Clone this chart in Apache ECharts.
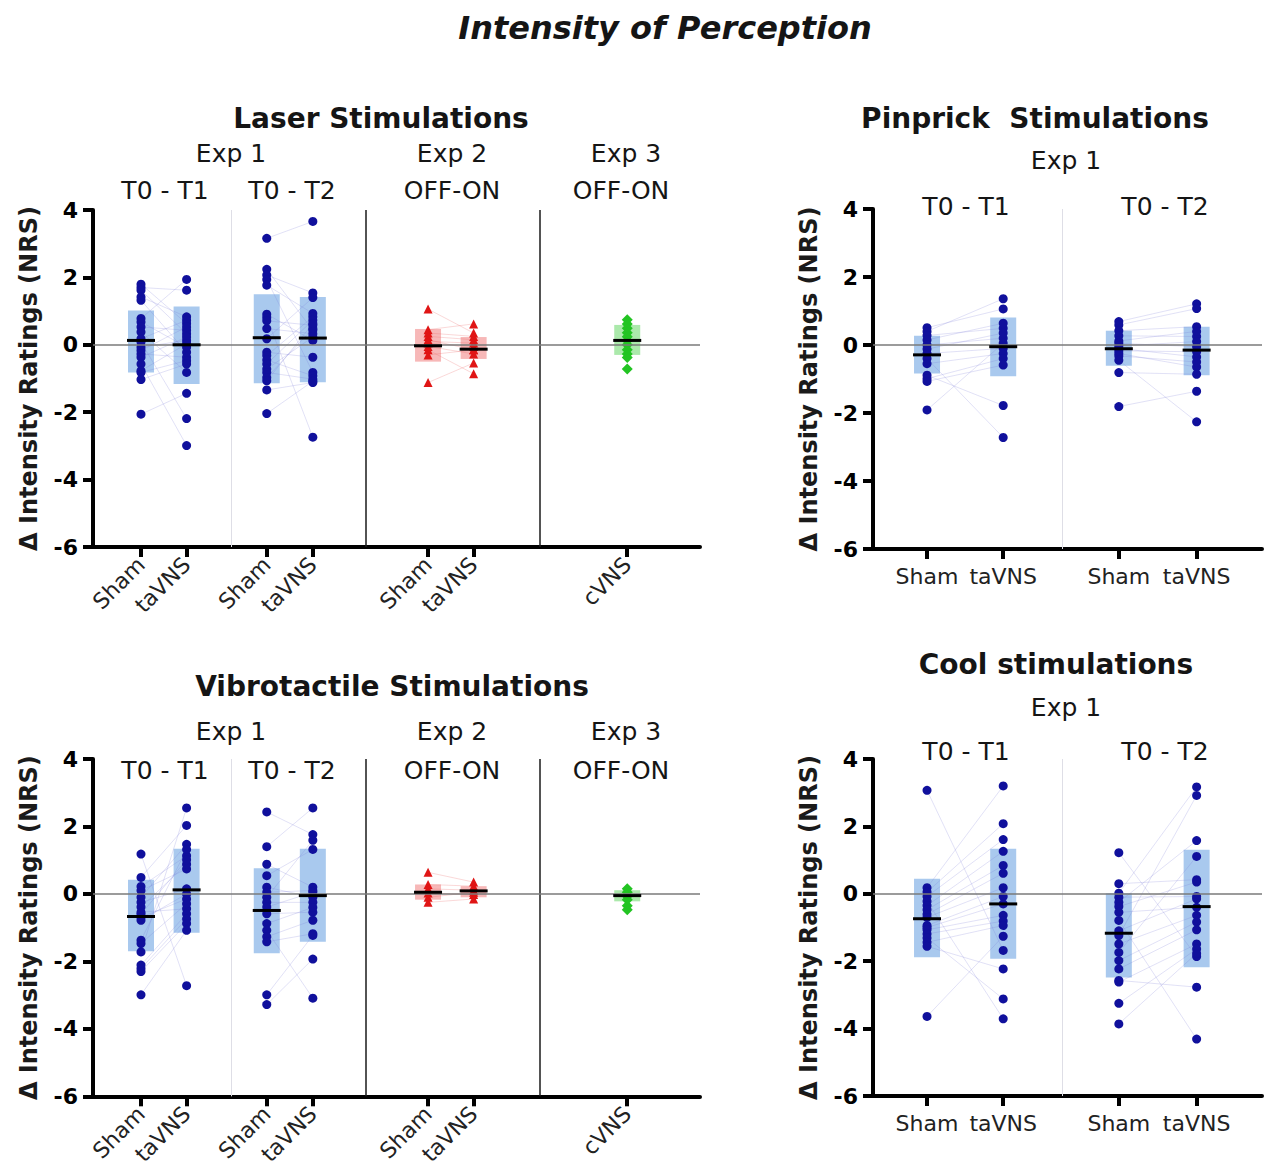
<!DOCTYPE html>
<html><head><meta charset="utf-8">
<script src="https://cdn.jsdelivr.net/npm/echarts@6/dist/echarts.min.js"></script>
<style>html,body{margin:0;padding:0;background:#fff}#c{width:1268px;height:1168px}</style>
</head><body><div id="c"></div><script>
// ===== DATA =====
const laserNames = ['Sham','taVNS','Sham','taVNS','Sham','taVNS','cVNS'];
const pinNames = ['Sham','taVNS','Sham','taVNS'];
const yAxisName = 'Δ Intensity Ratings (NRS)';

// Laser stimulations
const laserT1Sham  = [1.80, 1.70, 1.62, 1.42, 1.32, 0.78, 0.68, 0.53, 0.38, 0.18, 0.08, -0.07, -0.17, -0.27, -0.37, -0.57, -0.77, -0.82, -1.03, -2.06];
const laserT1Tavns = [0.63, 1.62, 0.33, 0.83, -0.22, 1.94, -0.07, 0.43, -0.82, 0.73, -2.19, 0.13, 0.53, -0.37, 0.23, -2.99, 0.03, -0.47, -0.57, -1.44];
const laserT2Sham  = [3.16, 2.24, 2.07, 1.94, 1.77, 0.91, 0.81, 0.71, 0.48, 0.18, -0.22, -0.32, -0.45, -0.57, -0.72, -0.82, -0.97, -1.07, -1.34, -2.04];
const laserT2Tavns = [3.66, 0.43, 1.54, -0.82, 0.93, 0.13, -2.74, 0.58, 0.33, 1.40, -0.37, 0.83, -0.92, 0.73, 0.23, -1.02, 0.48, 0.63, -1.12, -1.08];
const laserE2Sham  = [1.06, 0.45, 0.35, 0.25, 0.15, 0.10, 0.05, -0.05, -0.15, -0.30, -1.12];
const laserE2Tavns = [0.35, 0.62, 0.25, 0.15, -0.15, 0.05, -0.05, -0.27, -0.86, -0.15, -0.54];
const laserE3Cvns  = [0.74, 0.62, 0.49, 0.36, 0.24, 0.12, 0.00, -0.15, -0.27, -0.38, -0.72];
const laserBoxLow  = [-0.82, -1.16, -1.14, -1.11, -0.50, -0.42, -0.30];
const laserBoxHigh = [1.02, 1.14, 1.50, 1.42, 0.47, 0.23, 0.59];
const laserMean    = [0.13, 0.00, 0.21, 0.20, -0.03, -0.13, 0.13];

// Pinprick stimulations
const pinT1Sham  = [0.51, 0.40, 0.28, 0.15, 0.00, -0.12, -0.25, -0.40, -0.55, -0.89, -0.99, -1.07, -1.91];
const pinT1Tavns = [1.06, 1.36, 0.49, 0.64, 0.20, 0.35, -0.10, -2.72, -0.25, -1.78, -0.40, -0.59, 0.05];
const pinT2Sham  = [0.69, 0.59, 0.42, 0.27, 0.12, 0.05, -0.03, -0.10, -0.17, -0.25, -0.32, -0.45, -0.81, -1.81];
const pinT2Tavns = [1.21, 1.07, 0.54, 0.25, 0.40, -0.05, 0.10, -0.35, -0.20, -0.65, -0.50, -2.26, -0.86, -1.36];
const pinBoxLow  = [-0.84, -0.92, -0.61, -0.89];
const pinBoxHigh = [0.27, 0.81, 0.42, 0.54];
const pinMean    = [-0.29, -0.05, -0.11, -0.15];

// Vibrotactile stimulations
const vibT1Sham  = [1.18, 0.49, 0.22, 0.10, -0.10, -0.25, -0.39, -0.54, -0.60, -0.69, -0.78, -1.37, -1.47, -1.72, -2.11, -2.21, -2.30, -2.99];
const vibT1Tavns = [-2.72, 2.03, 1.13, 0.74, 1.47, 0.15, 0.88, -0.44, 1.01, -0.15, 0.00, 1.32, -0.29, 2.55, -0.59, -0.74, -0.88, -1.08];
const vibT2Sham  = [2.43, 1.40, 0.88, 0.54, 0.20, 0.05, -0.10, -0.25, -0.39, -0.59, -0.88, -1.08, -1.27, -1.42, -2.99, -3.28];
const vibT2Tavns = [1.76, 2.55, 0.20, 1.32, -0.10, 0.10, 1.59, -0.25, 0.05, -0.54, -0.40, -3.09, -0.78, -1.18, -1.23, -1.93];
const vibE2Sham  = [0.64, 0.28, 0.15, 0.03, -0.10, -0.25];
const vibE2Tavns = [0.35, 0.23, 0.11, -0.02, 0.05, -0.15];
const vibE3Cvns  = [0.15, 0.05, -0.07, -0.17, -0.35, -0.47];
const vibBoxLow  = [-1.70, -1.15, -1.76, -1.42, -0.17, -0.10, -0.22];
const vibBoxHigh = [0.42, 1.34, 0.76, 1.34, 0.28, 0.23, 0.11];
const vibMean    = [-0.67, 0.12, -0.49, -0.05, 0.05, 0.09, -0.05];

// Cool stimulations
const coolT1Sham  = [3.07, 0.18, 0.05, -0.08, -0.22, -0.35, -0.47, -0.61, -0.70, -0.94, -1.00, -1.07, -1.19, -1.31, -1.44, -1.56, -3.64];
const coolT1Tavns = [-1.68, 3.20, 2.08, 1.61, -3.71, 1.26, 0.84, 0.61, 0.18, -0.08, -0.30, -0.64, -0.81, -3.12, -0.94, -2.23, -1.26];
const coolT2Sham  = [1.22, 0.30, 0.02, -0.10, -0.25, -0.38, -0.55, -0.79, -1.10, -1.24, -1.49, -1.74, -1.98, -2.23, -2.57, -2.62, -3.25, -3.86];
const coolT2Tavns = [-1.86, 0.42, 3.17, -0.08, 1.58, 0.35, -0.40, -4.31, -0.15, 2.92, -0.64, 1.11, -0.84, -1.07, -2.77, -1.49, -1.64, -1.77];
const coolBoxLow  = [-1.88, -1.93, -2.48, -2.18];
const coolBoxHigh = [0.45, 1.34, 0.02, 1.31];
const coolMean    = [-0.74, -0.30, -1.17, -0.38];

// ===== LAYOUT / STYLE =====
const FONT = '"DejaVu Sans", "Liberation Sans", Arial, sans-serif';
const STY = {
  b: {dot: '#10109c', box: '#a9c9ee', line: 'rgba(120,120,215,0.22)', symbol: 'circle', size: 9},
  r: {dot: '#e01515', box: '#f7b8b8', line: 'rgba(235,100,100,0.25)', symbol: 'triangle', size: 9},
  g: {dot: '#22c422', box: '#abe9ab', line: 'rgba(0,0,0,0)', symbol: 'diamond', size: 11}
};
const laserPos = [1, 1.95, 3.62, 4.58, 6.98, 7.93, 11.13];
const pinPos = [1, 2.41, 4.55, 5.99];

const panels = [
  {grid: {left: 93, top: 210, width: 607, height: 337}, xMax: 12.646, pos: laserPos, names: laserNames, rotate: 45, labelMargin: 14,
   light: [2.875], dark: [5.69, 9.31],
   groups: [laserT1Sham, laserT1Tavns, laserT2Sham, laserT2Tavns, laserE2Sham, laserE2Tavns, laserE3Cvns],
   low: laserBoxLow, high: laserBoxHigh, mean: laserMean, kinds: ['b','b','b','b','r','r','g'], pairs: [[0,1],[2,3],[4,5]]},
  {grid: {left: 873, top: 209, width: 389, height: 340}, xMax: 7.2, pos: pinPos, names: pinNames, rotate: 0, labelMargin: 16,
   light: [3.5], dark: [],
   groups: [pinT1Sham, pinT1Tavns, pinT2Sham, pinT2Tavns],
   low: pinBoxLow, high: pinBoxHigh, mean: pinMean, kinds: ['b','b','b','b'], pairs: [[0,1],[2,3]]},
  {grid: {left: 93, top: 759, width: 607, height: 338}, xMax: 12.646, pos: laserPos, names: laserNames, rotate: 45, labelMargin: 14,
   light: [2.875], dark: [5.69, 9.31],
   groups: [vibT1Sham, vibT1Tavns, vibT2Sham, vibT2Tavns, vibE2Sham, vibE2Tavns, vibE3Cvns],
   low: vibBoxLow, high: vibBoxHigh, mean: vibMean, kinds: ['b','b','b','b','r','r','g'], pairs: [[0,1],[2,3],[4,5]]},
  {grid: {left: 873, top: 759, width: 389, height: 337}, xMax: 7.2, pos: pinPos, names: pinNames, rotate: 0, labelMargin: 16,
   light: [3.5], dark: [],
   groups: [coolT1Sham, coolT1Tavns, coolT2Sham, coolT2Tavns],
   low: coolBoxLow, high: coolBoxHigh, mean: coolMean, kinds: ['b','b','b','b'], pairs: [[0,1],[2,3]]}
];

const texts = [
  ['Intensity of Perception', 665, 28, 32, 'bold', 'italic'],
  ['Laser Stimulations', 381, 118, 28, 'bold'],
  ['Exp 1', 231, 153, 25], ['T0 - T1', 165, 190, 25], ['T0 - T2', 292, 190, 25],
  ['Exp 2', 452, 153, 25], ['OFF-ON', 452, 190, 25], ['Exp 3', 626, 153, 25], ['OFF-ON', 621, 190, 25],
  ['Pinprick  Stimulations', 1035, 118, 28, 'bold'],
  ['Exp 1', 1066, 160, 25], ['T0 - T1', 966, 206, 25], ['T0 - T2', 1165, 206, 25],
  ['Vibrotactile Stimulations', 392, 686, 28, 'bold'],
  ['Exp 1', 231, 731, 25], ['T0 - T1', 165, 770, 25], ['T0 - T2', 292, 770, 25],
  ['Exp 2', 452, 731, 25], ['OFF-ON', 452, 770, 25], ['Exp 3', 626, 731, 25], ['OFF-ON', 621, 770, 25],
  ['Cool stimulations', 1056, 664, 28, 'bold'],
  ['Exp 1', 1066, 707, 25], ['T0 - T1', 966, 751, 25], ['T0 - T2', 1165, 751, 25]
];

// ===== BUILD =====
function nameAt(pos, names) {
  return v => { let k = 0, b = 1e9; pos.forEach((p, i) => { const d = Math.abs(p - v); if (d < b) { b = d; k = i; } }); return names[k]; };
}

const grids = [], xAxes = [], yAxes = [], series = [];
panels.forEach((P, pi) => {
  grids.push(Object.assign({containLabel: false}, P.grid));
  xAxes.push({
    gridIndex: pi, type: 'value', min: 0, max: P.xMax,
    axisLine: {show: true, onZero: false, lineStyle: {color: '#000', width: 4}},
    axisTick: {show: true, customValues: P.pos, length: 10, lineStyle: {color: '#000', width: 4}},
    axisLabel: {show: true, customValues: P.pos, formatter: nameAt(P.pos, P.names), rotate: P.rotate,
      fontSize: 22, color: '#222', fontFamily: FONT, margin: P.labelMargin},
    splitLine: {show: false}
  });
  yAxes.push({
    gridIndex: pi, type: 'value', min: -6, max: 4, interval: 2,
    name: yAxisName, nameLocation: 'middle', nameGap: 52,
    nameTextStyle: {fontSize: 24, fontWeight: 'bold', color: '#1a1a1a', fontFamily: FONT},
    axisLine: {show: true, onZero: false, lineStyle: {color: '#000', width: 4}},
    axisTick: {show: true, length: 10, lineStyle: {color: '#000', width: 4}},
    axisLabel: {fontSize: 22, fontWeight: 'bold', color: '#000', fontFamily: FONT, margin: 15},
    splitLine: {show: false}
  });
  // boxes
  series.push({
    type: 'custom', xAxisIndex: pi, yAxisIndex: pi, z: 1, silent: true,
    encode: {x: 0, y: [1, 2]},
    data: P.groups.map((g, i) => ({value: [P.pos[i], P.low[i], P.high[i]], itemStyle: {color: STY[P.kinds[i]].box}})),
    renderItem: (params, api) => {
      const x = api.value(0);
      const t = api.coord([x, api.value(2)]);
      const b = api.coord([x, api.value(1)]);
      return {type: 'rect', shape: {x: t[0] - 13, y: t[1], width: 26, height: b[1] - t[1]}, style: {fill: api.visual('color')}};
    }
  });
  // reference lines (separators and zero line)
  const ml = [];
  P.light.forEach(v => ml.push({xAxis: v, lineStyle: {color: '#dedee6', width: 1, type: 'solid'}}));
  P.dark.forEach(v => ml.push({xAxis: v, lineStyle: {color: '#1a1a1a', width: 1.5, type: 'solid'}}));
  ml.push({yAxis: 0, lineStyle: {color: '#7a7a7a', width: 1.5, type: 'solid'}});
  series.push({
    type: 'scatter', xAxisIndex: pi, yAxisIndex: pi, z: 2, silent: true, data: [],
    markLine: {silent: true, symbol: ['none', 'none'], label: {show: false}, animation: false, data: ml}
  });
  // subject pair lines
  const pairData = [];
  P.pairs.forEach(([a, b]) => {
    const A = P.groups[a], B = P.groups[b], n = Math.min(A.length, B.length);
    for (let i = 0; i < n; i++) pairData.push({value: [P.pos[a], A[i], P.pos[b], B[i]], itemStyle: {color: STY[P.kinds[a]].line}});
  });
  series.push({
    type: 'custom', xAxisIndex: pi, yAxisIndex: pi, z: 3, silent: true,
    encode: {x: [0, 2], y: [1, 3]}, data: pairData,
    renderItem: (params, api) => {
      const a = api.coord([api.value(0), api.value(1)]), b = api.coord([api.value(2), api.value(3)]);
      return {type: 'line', shape: {x1: a[0], y1: a[1], x2: b[0], y2: b[1]}, style: {stroke: api.visual('color'), lineWidth: 1}};
    }
  });
  // individual points
  P.groups.forEach((g, i) => {
    const s = STY[P.kinds[i]];
    series.push({
      type: 'scatter', xAxisIndex: pi, yAxisIndex: pi, z: 4, silent: true,
      symbol: s.symbol, symbolSize: s.size, itemStyle: {color: s.dot, opacity: 1},
      data: g.map(v => [P.pos[i], v])
    });
  });
  // mean lines
  series.push({
    type: 'custom', xAxisIndex: pi, yAxisIndex: pi, z: 5, silent: true,
    encode: {x: 0, y: 1},
    data: P.mean.map((m, i) => [P.pos[i], m]),
    renderItem: (params, api) => {
      const c = api.coord([api.value(0), api.value(1)]);
      return {type: 'line', shape: {x1: c[0] - 14, y1: c[1], x2: c[0] + 14, y2: c[1]}, style: {stroke: '#000', lineWidth: 3}};
    }
  });
});

const graphics = texts.map(([t, x, y, fs, fw, fst]) => ({
  type: 'text', x: x, y: y, silent: true,
  style: {text: t, font: (fst || 'normal') + ' ' + (fw || 'normal') + ' ' + fs + 'px ' + FONT,
    fill: '#151515', textAlign: 'center', textVerticalAlign: 'middle', align: 'center', verticalAlign: 'middle'}
}));

const chart = echarts.init(document.getElementById('c'), null, {renderer: 'svg'});
chart.setOption({
  animation: false,
  backgroundColor: '#ffffff',
  textStyle: {fontFamily: FONT},
  grid: grids, xAxis: xAxes, yAxis: yAxes, series: series,
  graphic: graphics
});
</script></body></html>
